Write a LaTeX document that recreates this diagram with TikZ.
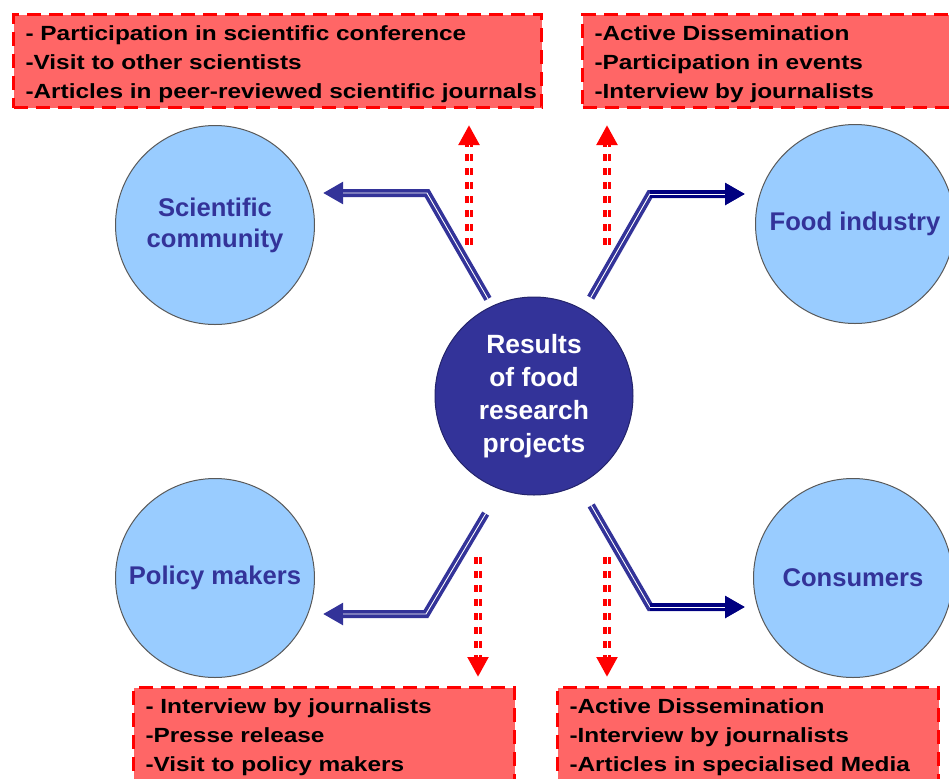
\documentclass[tikz,border=0pt]{standalone}
\usepackage{fontspec}
\setsansfont{Liberation Sans}
\newfontfamily\boxfont{Liberation Sans}[FakeStretch=1.19]
\usetikzlibrary{arrows.meta}
\definecolor{discblue}{HTML}{99CCFF}
\definecolor{inkblue}{HTML}{333399}
\definecolor{deepnavy}{HTML}{000080}
\definecolor{boxred}{HTML}{FF6666}
\definecolor{cuered}{HTML}{FF0000}

\begin{document}
\begin{tikzpicture}[x=0.5pt,y=-0.5pt,
  disc/.style={circle,draw=black!65,line width=0.5pt,fill=discblue,minimum size=99.5pt,inner sep=0pt,
    align=center,text=inkblue,font=\sffamily\bfseries\fontsize{12.8}{15.5}\selectfont},
  core/.style={circle,draw=inkblue!70!black,line width=0.5pt,fill=inkblue,minimum size=99pt,inner sep=0pt,
    align=center,text=white,font=\sffamily\bfseries\fontsize{13.2}{16.5}\selectfont},
  infobox/.style={anchor=north west,draw=cuered,fill=boxred,line width=1.5pt,dash pattern=on 7pt off 4pt,
    minimum height=46.5pt,inner xsep=6pt,inner ysep=1pt,align=left,
    font=\boxfont\bfseries\fontsize{10.25}{14.5}\selectfont,execute at begin node=\strut},
  flow/.style={inkblue,line width=4pt,-{Triangle[length=10pt,width=10.5pt]},
    postaction={draw=white,line width=0.45pt,-,shorten >=10pt}},
  cue/.style={cuered,line width=4pt,dash pattern=on 3.5pt off 3.5pt,-{Triangle[length=10pt,width=10pt]},
    postaction={draw=white,solid,line width=0.5pt,-,shorten >=10pt}}]
\path [use as bounding box,clip] (0,0) rectangle (949,778);
%\draw [help lines,step=50] (0,0) grid (949,778);
% the boxes with the channels
\node [infobox,text width=252pt] (tl) at (12,13) {- Participation in scientific conference\\-Visit to other scientists\\\mbox{-Articles in peer-reviewed scientific journals}};
\node [infobox,text width=188pt] (tr) at (581,13) {-Active Dissemination\\-Participation in events\\-Interview by journalists};
\node [infobox,text width=178.5pt] (bl) at (132,686) {- Interview by journalists\\-Presse release\\-Visit to policy makers};
\node [infobox,text width=178.5pt] (br) at (556,686) {-Active Dissemination\\-Interview by journalists\\-Articles in specialised Media};
% circles
\node [core] (res) at (534,396) {Results\\of food\\research\\projects};
\node [disc] (sci) at (215,225) {Scientific\\community};
\node [disc] (food) at (855,224) {Food industry};
\node [disc] (pol) at (215,578) {Policy makers};
\node [disc] (con) at (853,578) {Consumers};
% bends and arrow ends
\coordinate (tlb) at (427,193);
\coordinate (trb) at (650,194);
\coordinate (blb) at (426,614);
\coordinate (brb) at (650,607);
\coordinate (tle) at (323,193);
\coordinate (tre) at (745,194);
\coordinate (ble) at (323,614);
\coordinate (bre) at (745,607);
\draw [flow,shorten <=4pt] (res.115) -- (tlb) -- (tle);
\draw [flow,shorten <=7pt] (res.60) -- (trb) -- (tre);
\draw [flow,deepnavy] (trb) -- (tre);
\draw [flow,shorten <=14pt] (res.-110) -- (blb) -- (ble);
\draw [flow,shorten <=12pt] (res.-63) -- (brb) -- (bre);
\draw [flow,deepnavy] (brb) -- (bre);
% dotted red arrows
\coordinate (u1) at (469,245);
\coordinate (u1') at (469,125);
\coordinate (u2) at (607,245);
\coordinate (u2') at (607,125);
\coordinate (d1) at (478,557);
\coordinate (d1') at (478,677);
\coordinate (d2) at (607,557);
\coordinate (d2') at (607,677);
\draw [cue] (u1) -- (u1');
\draw [cue] (u2) -- (u2');
\draw [cue] (d1) -- (d1');
\draw [cue] (d2) -- (d2');
\end{tikzpicture}
\end{document}
